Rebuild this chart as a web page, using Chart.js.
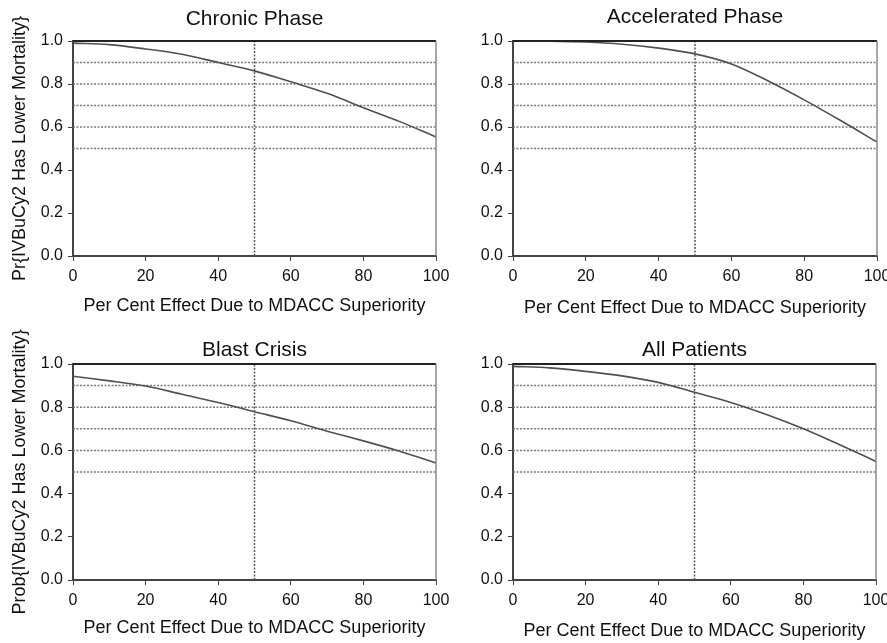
<!DOCTYPE html>
<html>
<head>
<meta charset="utf-8">
<script src="https://cdn.jsdelivr.net/npm/chart.js@4"></script>
<style>
  body { margin: 0; background: #fff; }
  #wrap { position: relative; width: 887px; height: 643px; }
  canvas { position: absolute; }
</style>
</head>
<body>
<div id="wrap">
  <canvas id="c1" width="450" height="320" style="left:0;top:0"></canvas>
  <canvas id="c2" width="437" height="320" style="left:450px;top:0"></canvas>
  <canvas id="c3" width="450" height="323" style="left:0;top:320px"></canvas>
  <canvas id="c4" width="437" height="323" style="left:450px;top:320px"></canvas>
</div>
<script>
// per cent effect due to MDACC superiority
const effect = [0, 10, 20, 30, 40, 50, 60, 70, 80, 90, 100];
const chronic = [0.990, 0.983, 0.963, 0.938, 0.900, 0.861, 0.810, 0.757, 0.690, 0.625, 0.554];
const accelerated = [1.000, 0.999, 0.995, 0.985, 0.967, 0.940, 0.893, 0.815, 0.726, 0.630, 0.530];
const blast = [0.943, 0.922, 0.898, 0.860, 0.822, 0.779, 0.737, 0.689, 0.644, 0.596, 0.542];
const allPatients = [0.989, 0.982, 0.966, 0.945, 0.915, 0.869, 0.822, 0.765, 0.700, 0.626, 0.549];

const refLevels = [0.5, 0.6, 0.7, 0.8, 0.9];
const refEffect = 50;

const font = 'Liberation Sans, Arial, Helvetica, sans-serif';

// box around the plot: top and right edges
const frame = {
    id: 'frame',
    afterDatasetsDraw(chart) {
        const a = chart.chartArea;
        const c = chart.ctx;
        c.save();
        c.strokeStyle = '#222';
        c.lineWidth = 2;
        c.beginPath();
        c.moveTo(a.left, a.top);
        c.lineTo(a.right, a.top);
        c.stroke();
        c.strokeStyle = '#8a8a8a';
        c.lineWidth = 1.5;
        c.beginPath();
        c.moveTo(a.right, a.top);
        c.lineTo(a.right, a.bottom);
        c.stroke();
        c.restore();
    }
};

function panel(id, title, values, yTitle, lay) {
    const sets = [{
        data: effect.map((x, i) => ({x: x, y: values[i]})),
        borderColor: '#505050',
        borderWidth: 1.6,
        pointRadius: 0,
        cubicInterpolationMode: 'monotone',
        clip: false
    }];
    refLevels.forEach(v => {
        sets.push({
            data: [{x: 0, y: v}, {x: 100, y: v}],
            borderColor: '#7a7a7a',
            borderWidth: 1.5,
            borderDash: [2, 1.5],
            pointRadius: 0
        });
    });
    sets.push({
        data: [{x: refEffect, y: 0}, {x: refEffect, y: 1}],
        borderColor: '#555',
        borderWidth: 1.5,
        borderDash: [2, 1.5],
        pointRadius: 0
    });

    new Chart(document.getElementById(id).getContext('2d'), {
        type: 'line',
        data: {datasets: sets},
        plugins: [frame],
        options: {
            responsive: false,
            animation: false,
            events: [],
            layout: {padding: {left: 0, right: lay.right, top: 0, bottom: 0}},
            plugins: {
                legend: {display: false},
                tooltip: {enabled: false},
                title: {
                    display: true,
                    text: title,
                    fullSize: false,
                    color: '#111',
                    font: {family: font, size: 21, weight: 'normal'},
                    padding: {top: lay.tTop, bottom: lay.tBottom}
                }
            },
            scales: {
                x: {
                    type: 'linear',
                    min: 0,
                    max: 100,
                    afterFit: s => { s.height = lay.xh; s.paddingLeft = 0; s.paddingRight = 0; },
                    border: {display: true, color: '#444', width: 2},
                    grid: {drawOnChartArea: false, drawTicks: true, tickLength: 5, color: '#444'},
                    ticks: {stepSize: 20, maxRotation: 0, autoSkip: false, padding: 6,
                        color: '#111', font: {family: font, size: 16}},
                    title: {display: true, text: 'Per Cent Effect Due to MDACC Superiority',
                        color: '#111', font: {family: font, size: 18},
                        padding: {top: 0, bottom: lay.xtBottom}}
                },
                y: {
                    min: 0,
                    max: 1,
                    afterFit: s => { s.width = lay.yw; },
                    border: {display: true, color: '#444', width: 2},
                    grid: {drawOnChartArea: false, drawTicks: true, tickLength: 5, color: '#444'},
                    ticks: {stepSize: 0.2, padding: 5, color: '#111',
                        font: {family: font, size: 16},
                        callback: v => v.toFixed(1)},
                    title: {display: !!yTitle, text: yTitle || '',
                        color: '#111', font: {family: font, size: 18},
                        padding: {top: 9.7, bottom: 0}}
                }
            }
        }
    });
}

panel('c1', 'Chronic Phase', chronic, 'Pr{IVBuCy2 Has Lower Mortality}',
    {right: 14, yw: 73, xh: 64, tTop: 6.4, tBottom: 9.4, xtBottom: 3.2});
panel('c2', 'Accelerated Phase', accelerated, null,
    {right: 10, yw: 63, xh: 64, tTop: 4.9, tBottom: 10.9, xtBottom: 0.7});
panel('c3', 'Blast Crisis', blast, 'Prob{IVBuCy2 Has Lower Mortality}',
    {right: 14, yw: 73, xh: 63, tTop: 17.4, tBottom: 1.4, xtBottom: 3.7});
panel('c4', 'All Patients', allPatients, null,
    {right: 11, yw: 63, xh: 63, tTop: 17.4, tBottom: 1.4, xtBottom: 1.2});
</script>
</body>
</html>
